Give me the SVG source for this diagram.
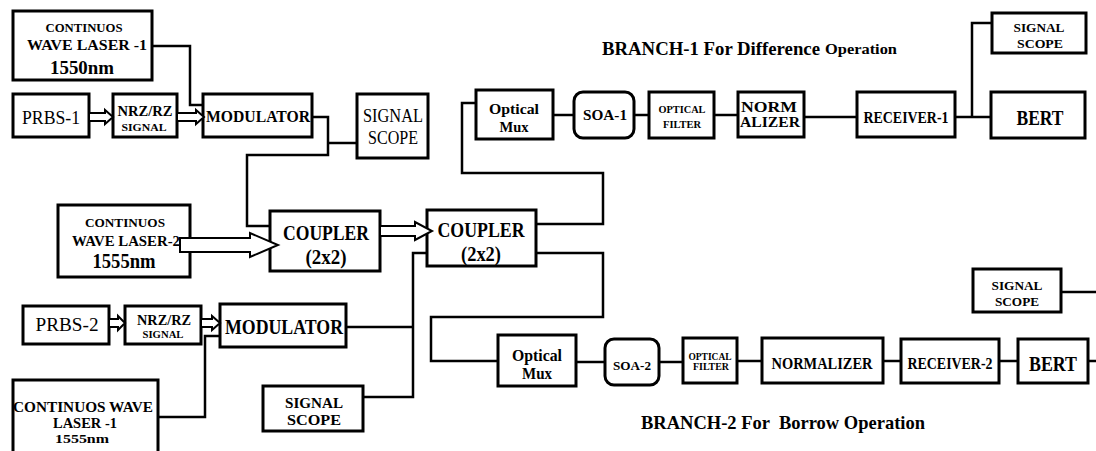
<svg xmlns="http://www.w3.org/2000/svg" width="1096" height="451" viewBox="0 0 1096 451">
<style>
.b{fill:#fff;stroke:#000;stroke-width:3}
.w{fill:none;stroke:#000;stroke-width:2.5;stroke-linejoin:miter}
.h{fill:#fff;stroke:#000;stroke-width:2;stroke-linejoin:miter}
text{font-family:"Liberation Serif","Times New Roman",serif;font-weight:bold;fill:#000;text-anchor:middle;dominant-baseline:central}
.n{font-weight:normal}
</style>
<rect width="1096" height="451" fill="#fff"/>
<g id="cw1"><rect class="b" x="13" y="11" width="139" height="69"/>
<text x="84" y="27" font-size="13" textLength="77" lengthAdjust="spacingAndGlyphs">CONTINUOS</text>
<text x="87" y="45" font-size="14" textLength="120" lengthAdjust="spacingAndGlyphs">WAVE LASER -1</text>
<text x="82" y="67" font-size="19" textLength="64" lengthAdjust="spacingAndGlyphs">1550nm</text></g>
<g id="prbs1"><rect class="b" x="13" y="94" width="76" height="43"/>
<text class="n" x="51" y="117" font-size="19" textLength="58" lengthAdjust="spacingAndGlyphs">PRBS-1</text></g>
<g id="nrz1"><rect class="b" x="113" y="94" width="64" height="43"/>
<text x="145" y="111" font-size="14" textLength="55" lengthAdjust="spacingAndGlyphs">NRZ/RZ</text>
<text x="144" y="127" font-size="10" textLength="45" lengthAdjust="spacingAndGlyphs">SIGNAL</text></g>
<g id="mod1"><rect class="b" x="203" y="94" width="109" height="43"/>
<text x="258" y="116" font-size="16" textLength="104" lengthAdjust="spacingAndGlyphs">MODULATOR</text></g>
<g id="scope1"><rect class="b" x="357" y="94" width="71" height="64"/>
<text class="n" x="393" y="116" font-size="18" textLength="60" lengthAdjust="spacingAndGlyphs">SIGNAL</text>
<text class="n" x="393" y="138" font-size="18" textLength="50" lengthAdjust="spacingAndGlyphs">SCOPE</text></g>
<g id="cw2"><rect class="b" x="58" y="205" width="132" height="72"/>
<text x="125" y="222" font-size="13" textLength="80" lengthAdjust="spacingAndGlyphs">CONTINUOS</text>
<text x="126" y="241" font-size="14" textLength="108" lengthAdjust="spacingAndGlyphs">WAVE LASER-2</text>
<text x="124" y="261" font-size="20" textLength="63" lengthAdjust="spacingAndGlyphs">1555nm</text></g>
<g id="coupler1"><rect class="b" x="270" y="211" width="110" height="60"/>
<text x="326" y="233" font-size="21" textLength="86" lengthAdjust="spacingAndGlyphs">COUPLER</text>
<text x="326" y="257" font-size="20" textLength="41" lengthAdjust="spacingAndGlyphs">(2x2)</text></g>
<g id="coupler2"><rect class="b" x="427" y="210" width="109" height="56"/>
<text x="481" y="230" font-size="21" textLength="87" lengthAdjust="spacingAndGlyphs">COUPLER</text>
<text x="481" y="254" font-size="20" textLength="40" lengthAdjust="spacingAndGlyphs">(2x2)</text></g>
<g id="prbs2"><rect class="b" x="23" y="306" width="86" height="38"/>
<text class="n" x="67" y="324" font-size="19" textLength="63" lengthAdjust="spacingAndGlyphs">PRBS-2</text></g>
<g id="nrz2"><rect class="b" x="125" y="306" width="76" height="38"/>
<text x="164" y="320" font-size="14" textLength="54" lengthAdjust="spacingAndGlyphs">NRZ/RZ</text>
<text x="163" y="334" font-size="10" textLength="41" lengthAdjust="spacingAndGlyphs">SIGNAL</text></g>
<g id="mod2"><rect class="b" x="220" y="304" width="126" height="43"/>
<text x="284" y="327" font-size="21" textLength="118" lengthAdjust="spacingAndGlyphs">MODULATOR</text></g>
<g id="cw3"><rect class="b" x="13" y="380" width="145" height="80"/>
<text x="83" y="407" font-size="14" textLength="140" lengthAdjust="spacingAndGlyphs">CONTINUOS WAVE</text>
<text x="85" y="423" font-size="14" textLength="64" lengthAdjust="spacingAndGlyphs">LASER -1</text>
<text x="82" y="438" font-size="13" textLength="54" lengthAdjust="spacingAndGlyphs">1555nm</text></g>
<g id="scope2"><rect class="b" x="263" y="386" width="100" height="45"/>
<text x="314" y="403" font-size="15" textLength="58" lengthAdjust="spacingAndGlyphs">SIGNAL</text>
<text x="314" y="420" font-size="15" textLength="54" lengthAdjust="spacingAndGlyphs">SCOPE</text></g>
<g id="mux1"><rect class="b" x="476" y="90" width="77" height="49"/>
<text x="514" y="109" font-size="15" textLength="50" lengthAdjust="spacingAndGlyphs">Optical</text>
<text x="514" y="127" font-size="15" textLength="29" lengthAdjust="spacingAndGlyphs">Mux</text></g>
<g id="soa1"><rect class="b" x="574" y="92" width="60" height="46" rx="9"/>
<text x="605" y="115" font-size="15" textLength="44" lengthAdjust="spacingAndGlyphs">SOA-1</text></g>
<g id="filter1"><rect class="b" x="649" y="92" width="65" height="46"/>
<text x="682" y="109" font-size="11" textLength="47" lengthAdjust="spacingAndGlyphs">OPTICAL</text>
<text x="682" y="124" font-size="11" textLength="38" lengthAdjust="spacingAndGlyphs">FILTER</text></g>
<g id="norm1"><rect class="b" x="738" y="92" width="66" height="45"/>
<text x="769" y="107" font-size="15" textLength="56" lengthAdjust="spacingAndGlyphs">NORM</text>
<text x="770" y="122" font-size="15" textLength="60" lengthAdjust="spacingAndGlyphs">ALIZER</text></g>
<g id="rec1"><rect class="b" x="857" y="92" width="98" height="45"/>
<text x="906" y="117" font-size="16" textLength="85" lengthAdjust="spacingAndGlyphs">RECEIVER-1</text></g>
<g id="scope3"><rect class="b" x="992" y="13" width="94" height="40"/>
<text x="1039" y="27" font-size="13" textLength="51" lengthAdjust="spacingAndGlyphs">SIGNAL</text>
<text x="1040" y="43" font-size="13" textLength="46" lengthAdjust="spacingAndGlyphs">SCOPE</text></g>
<g id="bert1"><rect class="b" x="991" y="92" width="94" height="46"/>
<text x="1040" y="117" font-size="22" textLength="47" lengthAdjust="spacingAndGlyphs">BERT</text></g>
<g id="mux2"><rect class="b" x="498" y="335" width="78" height="51"/>
<text x="537" y="355" font-size="16" textLength="50" lengthAdjust="spacingAndGlyphs">Optical</text>
<text x="537" y="373" font-size="16" textLength="30" lengthAdjust="spacingAndGlyphs">Mux</text></g>
<g id="soa2"><rect class="b" x="605" y="339" width="54" height="46" rx="9"/>
<text x="632" y="365" font-size="13" textLength="38" lengthAdjust="spacingAndGlyphs">SOA-2</text></g>
<g id="filter2"><rect class="b" x="683" y="338" width="54" height="45"/>
<text x="710" y="357" font-size="9.5" textLength="43" lengthAdjust="spacingAndGlyphs">OPTICAL</text>
<text x="711" y="367" font-size="9.5" textLength="36" lengthAdjust="spacingAndGlyphs">FILTER</text></g>
<g id="norm2"><rect class="b" x="762" y="338" width="121" height="45"/>
<text x="822" y="363" font-size="16" textLength="101" lengthAdjust="spacingAndGlyphs">NORMALIZER</text></g>
<g id="rec2"><rect class="b" x="901" y="339" width="98" height="44"/>
<text x="950" y="363" font-size="16" textLength="85" lengthAdjust="spacingAndGlyphs">RECEIVER-2</text></g>
<g id="bert2"><rect class="b" x="1018" y="339" width="70" height="44"/>
<text x="1053" y="363" font-size="22" textLength="48" lengthAdjust="spacingAndGlyphs">BERT</text></g>
<g id="scope4"><rect class="b" x="973" y="269" width="88" height="43"/>
<text x="1017" y="285" font-size="13" textLength="51" lengthAdjust="spacingAndGlyphs">SIGNAL</text>
<text x="1017" y="301" font-size="13" textLength="44" lengthAdjust="spacingAndGlyphs">SCOPE</text></g>
<g id="title1"><text x="711" y="48" font-size="19" textLength="218" lengthAdjust="spacingAndGlyphs">BRANCH-1 For Difference</text>
<text x="861" y="49" font-size="14" textLength="72" lengthAdjust="spacingAndGlyphs">Operation</text></g>
<g id="title2"><text x="783" y="422" font-size="19" textLength="284" lengthAdjust="spacingAndGlyphs" xml:space="preserve">BRANCH-2 For  Borrow Operation</text></g>
<g id="connectors">
<path class="w" d="M152,46 H190 V105 H203"/>
<path class="w" d="M312,117 H328 V155 H247 V226 H270"/>
<path class="w" d="M328,143 H357"/>
<path class="w" d="M536,224 H603 V173 H462 V103 H476"/>
<path class="w" d="M536,253 H603 V317 H431 V361 H498"/>
<path class="w" d="M427,253 H413 V397 H363"/>
<path class="w" d="M346,327 H413"/>
<path class="w" d="M158,417 H205 V336 H220"/>
<path class="w" d="M553,115 H574"/>
<path class="w" d="M634,115 H649"/>
<path class="w" d="M714,115 H738"/>
<path class="w" d="M804,117 H857"/>
<path class="w" d="M955,117 H991"/>
<path class="w" d="M972,117 V23 H992"/>
<path class="w" d="M576,362 H605"/>
<path class="w" d="M659,362 H683"/>
<path class="w" d="M737,361 H762"/>
<path class="w" d="M883,361 H901"/>
<path class="w" d="M999,361 H1018"/>
<path class="w" d="M1088,361 H1096"/>
<path class="w" d="M1061,292 H1096"/>
<polygon class="h" points="89,113 105,113 105,110 113,117 105,124 105,121 89,121"/>
<polygon class="h" points="177,113 196,113 196,110 204,117 196,124 196,121 177,121"/>
<polygon class="h" points="109,319 118,319 118,316 125,323 118,330 118,327 109,327"/>
<polygon class="h" points="201,319 212,319 212,316 220,323 212,330 212,327 201,327"/>
<polygon class="h" points="180,238 250,238 250,233 278,245 250,257 250,252 180,252"/>
<polygon class="h" points="380,226 415,226 415,222 432,231 415,240 415,236 380,236"/>
</g>
</svg>
